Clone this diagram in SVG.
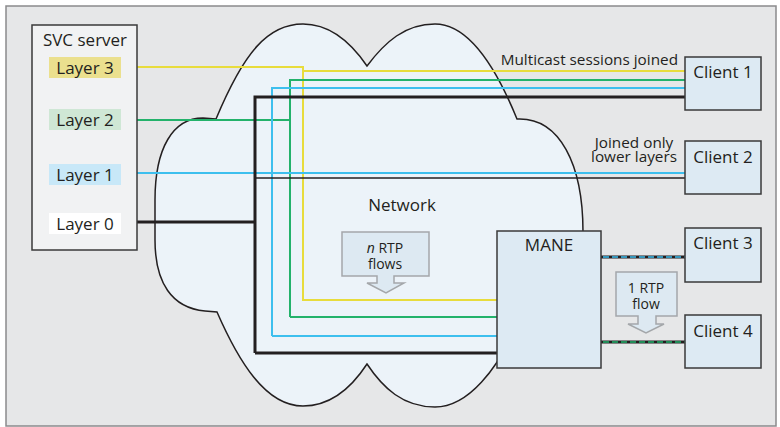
<svg xmlns="http://www.w3.org/2000/svg" width="780" height="427" viewBox="0 0 780 427">
<style>
.t{font-family:"Open Sans","Liberation Sans",sans-serif;fill:#231f20}
.big{font-size:17px}
.small{font-size:15.3px}
.mid{font-size:14px}
.box{fill:#ddeaf3;stroke:#3a3a3a;stroke-width:1.5}
.arrow{fill:#dde9f2;stroke:#a4a7aa;stroke-width:1.5}
.ln{fill:none;stroke-width:2}
.y{stroke:#e8dc3c}
.g{stroke:#23b26b}
.b{stroke:#3dbfee}
.k{stroke:#231f20}
</style>
<rect x="6" y="6" width="770" height="420" fill="#e6e7e8" stroke="#8a8a8c" stroke-width="1.5"/>
<g id="network">
<path d="M216 119 C244 52 268 24 303 24 C332 24 352 44 367 66 C385 42 405 24 435 24 C470 24 497 70 517 119 C560 117 583 165 583 232 C583 290 560 320 512 335 C498 365 470 407 435 407 C403 407 383 388 367 364 C350 390 330 406 303 406 C265 406 238 360 217 312 L205 311 C172 308 155 283 155 240 L155 200 C155 148 173 118 203 118 Z" fill="#ecf3f9" stroke="#231f20" stroke-width="1.5"/>
<text class="t big" x="402" y="211" text-anchor="middle">Network</text>
</g>
<g id="connectors">
<path class="ln y" d="M137 67 H303 V300 H497 M303 71 H685"/>
<path class="ln g" d="M137 120 H290 M290 317 V80 H685 M290 317 H497"/>
<path class="ln b" d="M137 173 H685 M272 336 V88 H685 M272 336 H497"/>
<path class="ln k" d="M137 222 H255 M255 353 V97 H685 M255 353 H497" style="stroke-width:3"/>
<path class="ln k" d="M255 178 H685" style="stroke-width:1.5"/>
<path d="M601 257 H685 M601 342 H685" fill="none" stroke="#231f20" stroke-width="3"/>
<path d="M603 257 H685" fill="none" stroke="#3dbfee" stroke-width="1.6" stroke-dasharray="6 3"/>
<path d="M603 342 H685" fill="none" stroke="#23b26b" stroke-width="1.6" stroke-dasharray="6 3"/>
</g>
<g id="svc-server">
<rect x="32" y="25" width="105" height="225" fill="#f1f2f3" stroke="#3a3a3a" stroke-width="1.5"/>
<text class="t big" x="85" y="46" text-anchor="middle">SVC server</text>
</g>
<g id="layer3">
<rect x="49" y="57" width="72" height="21" fill="#ebe08e"/>
<text class="t big" x="85" y="74" text-anchor="middle">Layer 3</text>
</g>
<g id="layer2">
<rect x="49" y="109" width="72" height="21" fill="#cfe7d5"/>
<text class="t big" x="85" y="126" text-anchor="middle">Layer 2</text>
</g>
<g id="layer1">
<rect x="49" y="164" width="72" height="21" fill="#c8e8f8"/>
<text class="t big" x="85" y="181" text-anchor="middle">Layer 1</text>
</g>
<g id="layer0">
<rect x="49" y="213" width="72" height="21" fill="#ffffff"/>
<text class="t big" x="85" y="230" text-anchor="middle">Layer 0</text>
</g>
<g id="n-rtp-flows">
<path class="arrow" d="M342 232 H429 V276 H394 V283 H404 L386 293 L367 283 H377 V276 H342 Z"/>
<text class="t mid" text-anchor="middle"><tspan x="385" y="253"><tspan font-style="italic">n</tspan> RTP</tspan><tspan x="385" y="269">flows</tspan></text>
</g>
<g id="mane">
<rect class="box" x="497" y="231" width="104" height="137"/>
<text class="t big" x="549" y="251" text-anchor="middle">MANE</text>
</g>
<g id="client1">
<rect class="box" x="685" y="57" width="76" height="53"/>
<text class="t big" x="723" y="78" text-anchor="middle">Client 1</text>
</g>
<g id="client2">
<rect class="box" x="685" y="141" width="76" height="53"/>
<text class="t big" x="723" y="163" text-anchor="middle">Client 2</text>
</g>
<g id="client3">
<rect class="box" x="685" y="228" width="76" height="54"/>
<text class="t big" x="723" y="249" text-anchor="middle">Client 3</text>
</g>
<g id="client4">
<rect class="box" x="685" y="315" width="76" height="53"/>
<text class="t big" x="723" y="337" text-anchor="middle">Client 4</text>
</g>
<g id="one-rtp-flow">
<path class="arrow" d="M616 272 H677 V316 H656 V324 H664 L646 333 L628 324 H638 V316 H616 Z"/>
<text class="t mid" text-anchor="middle"><tspan x="646" y="293">1 RTP</tspan><tspan x="646" y="309">flow</tspan></text>
</g>
<g id="labels">
<text class="t small" x="678" y="65" text-anchor="end">Multicast sessions joined</text>
<text class="t small" text-anchor="middle"><tspan x="634" y="148">Joined only</tspan><tspan x="634" y="162">lower layers</tspan></text>
</g>
</svg>
